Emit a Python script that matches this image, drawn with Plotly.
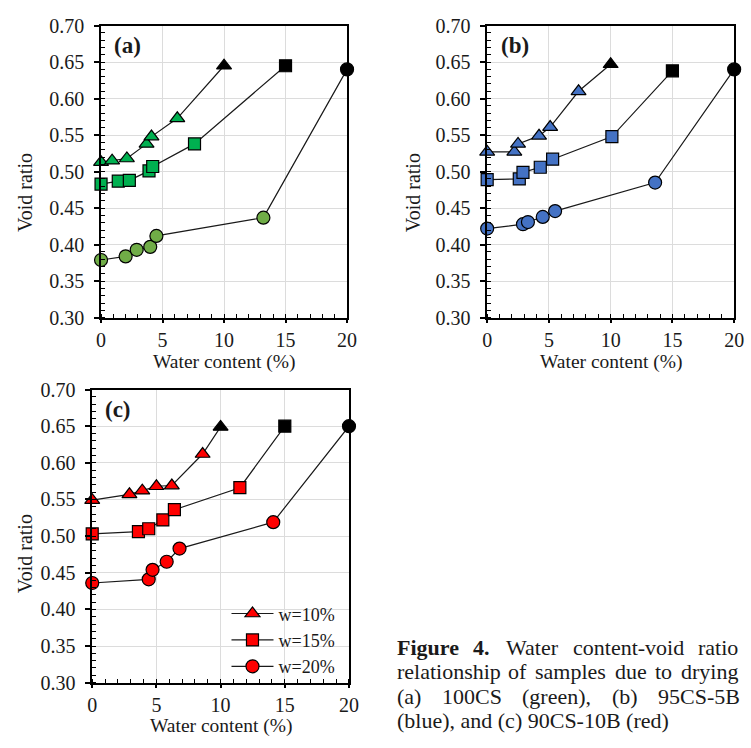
import plotly.graph_objects as go

# Water content (%) and void ratio during drying, three initial water contents per mix
# (a) 100CS
a_w10_x = [0, 0.9, 2.1, 3.7, 4.1, 6.2, 10]
a_w10_y = [0.513, 0.515, 0.518, 0.538, 0.548, 0.573, 0.645]
a_w15_x = [0, 1.4, 2.3, 3.9, 4.2, 7.6, 15]
a_w15_y = [0.483, 0.487, 0.488, 0.501, 0.507, 0.538, 0.645]
a_w20_x = [0, 2.0, 2.9, 4.0, 4.5, 13.2, 20]
a_w20_y = [0.379, 0.384, 0.393, 0.397, 0.412, 0.437, 0.640]

# (b) 95CS-5B
b_w10_x = [0, 2.2, 2.5, 4.2, 5.1, 7.4, 10]
b_w10_y = [0.527, 0.527, 0.538, 0.549, 0.561, 0.610, 0.647]
b_w15_x = [0, 2.6, 2.9, 4.3, 5.3, 10.1, 15]
b_w15_y = [0.489, 0.490, 0.499, 0.506, 0.517, 0.548, 0.638]
b_w20_x = [0, 2.9, 3.3, 4.5, 5.5, 13.6, 20]
b_w20_y = [0.422, 0.428, 0.431, 0.438, 0.446, 0.485, 0.640]

# (c) 90CS-10B
c_w10_x = [0, 2.9, 3.9, 5.0, 6.2, 8.6, 10]
c_w10_y = [0.549, 0.557, 0.562, 0.568, 0.569, 0.612, 0.649]
c_w15_x = [0, 3.6, 4.4, 5.5, 6.4, 11.5, 15]
c_w15_y = [0.503, 0.506, 0.510, 0.522, 0.536, 0.566, 0.650]
c_w20_x = [0, 4.4, 4.7, 5.8, 6.8, 14.1, 20]
c_w20_y = [0.436, 0.441, 0.454, 0.465, 0.483, 0.519, 0.650]

legend_names = ["w=10%", "w=15%", "w=20%"]
x_ticks = [0, 5, 10, 15, 20]
y_ticks = [0.30, 0.35, 0.40, 0.45, 0.50, 0.55, 0.60, 0.65, 0.70]

FONT = "Liberation Serif, Times New Roman, serif"
TXT = "#1a1a1a"
W, H = 751, 748

fig = go.Figure()


def add_series(xs, ys, symbol, fill, xa, ya, name=None, show=False, size=12):
    # the last point (initial state) is drawn solid black
    colors = [fill] * (len(xs) - 1) + ["black"]
    fig.add_trace(go.Scatter(
        x=xs, y=ys, mode="lines+markers", xaxis=xa, yaxis=ya,
        name=name, showlegend=show, cliponaxis=False,
        line=dict(color="#1a1a1a", width=1.2),
        marker=dict(symbol=symbol, size=size, color=colors,
                    line=dict(color="black", width=1.2)),
    ))


green = "#00b050"
olive = "#70ad47"
blue = "#4472c4"
red = "#ff0000"

add_series(a_w10_x, a_w10_y, "triangle-up", green, "x", "y", size=13)
add_series(a_w15_x, a_w15_y, "square", green, "x", "y")
add_series(a_w20_x, a_w20_y, "circle", olive, "x", "y", size=13)

add_series(b_w10_x, b_w10_y, "triangle-up", blue, "x2", "y2", size=13)
add_series(b_w15_x, b_w15_y, "square", blue, "x2", "y2")
add_series(b_w20_x, b_w20_y, "circle", blue, "x2", "y2", size=13)

add_series(c_w10_x, c_w10_y, "triangle-up", red, "x3", "y3", legend_names[0], True, size=13)
add_series(c_w15_x, c_w15_y, "square", red, "x3", "y3", legend_names[1], True)
add_series(c_w20_x, c_w20_y, "circle", red, "x3", "y3", legend_names[2], True, size=13)


def px_x(p):
    return p / W


def px_y(p):
    return 1 - p / H


def xaxis(left, right, anchor):
    return dict(
        domain=[px_x(left), px_x(right)], range=[0, 20], anchor=anchor,
        tickmode="array", tickvals=x_ticks,
        showline=True, linecolor="black", linewidth=1.5, mirror=True,
        ticks="outside", ticklen=4, tickwidth=1.5, tickcolor="black",
        minor=dict(ticks="inside", dtick=1, tick0=0, ticklen=4, tickwidth=1,
                   tickcolor="black", showgrid=False),
        showgrid=True, gridcolor="#dcdcdc", gridwidth=1, zeroline=False,
        tickfont=dict(family=FONT, size=20, color=TXT),
        ticklabelstandoff=0,
    )


def yaxis(top, bottom, anchor):
    return dict(
        domain=[px_y(bottom), px_y(top)], range=[0.30, 0.70], anchor=anchor,
        tickmode="array", tickvals=y_ticks, tickformat=".2f",
        showline=True, linecolor="black", linewidth=1.5, mirror=True,
        ticks="outside", ticklen=5, tickwidth=1.5, tickcolor="black",
        minor=dict(ticks="inside", dtick=0.01, tick0=0.30, ticklen=4, tickwidth=1,
                   tickcolor="black", showgrid=False),
        showgrid=True, gridcolor="#dcdcdc", gridwidth=1, zeroline=False,
        tickfont=dict(family=FONT, size=20, color=TXT),
        ticklabelstandoff=6,
    )


fig.update_layout(
    width=W, height=H,
    margin=dict(l=0, r=0, t=0, b=0),
    paper_bgcolor="white", plot_bgcolor="white",
    xaxis=xaxis(98, 349, "y"), yaxis=yaxis(15, 316, "x"),
    xaxis2=xaxis(492, 744, "y2"), yaxis2=yaxis(15, 316, "x2"),
    xaxis3=xaxis(89, 351, "y3"), yaxis3=yaxis(390, 692, "x3"),
    showlegend=True,
    legend=dict(x=px_x(226), y=px_y(602), xanchor="left", yanchor="top",
                bgcolor="rgba(0,0,0,0)", font=dict(family=FONT, size=18, color=TXT),
                itemwidth=42, tracegroupgap=0),
)


def note(text, xp, yp, size, xanchor="left", angle=0):
    fig.add_annotation(text=text, x=px_x(xp), y=px_y(yp), xref="paper", yref="paper",
                       xanchor=xanchor, yanchor="middle", showarrow=False, textangle=angle,
                       font=dict(family=FONT, size=size, color=TXT))


# axis titles
for xp, yp in [(223, 362), (618, 362), (220, 737)]:
    note("Water content (%)", xp, yp, 19.5, xanchor="center")
for xp, yp in [(20, 187), (416, 187), (20, 559)]:
    note("Void ratio", xp, yp, 20, xanchor="center", angle=-90)

# panel letters
for label, xp, yp in [("(a)", 109, 36), ("(b)", 504, 36), ("(c)", 100, 411)]:
    note(f"<b>{label}</b>", xp, yp, 23)

# caption, words spaced out on the justified lines
CAP = 22
caption_lines = [
    (656, [("<b>Figure</b>", 398), ("<b>4.</b>", 476), ("Water", 509), ("content-void", 578),
           ("ratio", 705)]),
    (681, [("relationship", 398), ("of", 511), ("samples", 539), ("due", 620), ("to", 661),
           ("drying", 688)]),
    (706, [("(a)", 398), ("100CS", 444), ("(green),", 526), ("(b)", 617), ("95CS-5B", 664)]),
    (731, [("(blue), and (c) 90CS-10B (red)", 398)]),
]
for yp, words in caption_lines:
    for w, xp in words:
        note(w, xp, yp, CAP)

fig.write_html("out.html")
